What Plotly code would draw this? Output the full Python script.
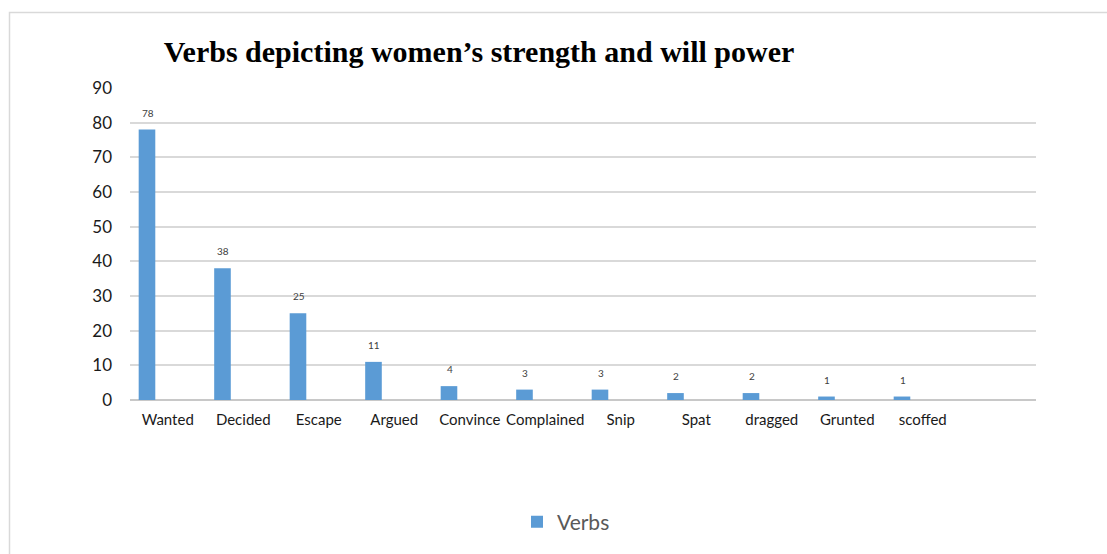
import plotly.graph_objects as go

# Verb frequency counts
verbs = ["Wanted", "Decided", "Escape", "Argued", "Convince", "Complained",
         "Snip", "Spat", "dragged", "Grunted", "scoffed"]
counts = [78, 38, 25, 11, 4, 3, 3, 2, 2, 1, 1]
y_ticks = [0, 10, 20, 30, 40, 50, 60, 70, 80, 90]

W, H = 1107, 554
L, R, T, B = 130, 71, 88, 154
pw, ph = W - L - R, H - T - B


def px_to_paper_x(px):
    return (px - L) / pw


def px_to_paper_y(py):
    return (H - B - py) / ph


fig = go.Figure()
fig.add_trace(go.Bar(
    x=verbs, y=counts, name="Verbs",
    marker=dict(color="#5b9bd5", line=dict(width=0)),
    offset=-0.385, width=0.22,
    hoverinfo="x+y",
))

# value labels above each bar
for v, c in zip(verbs, counts):
    fig.add_annotation(x=v, y=c, text=str(c), showarrow=False,
                       yshift=17, xshift=-20,
                       font=dict(family="Lato", size=10, color="#404040"))

# outer chart border
fig.add_shape(type="rect", xref="paper", yref="paper",
              x0=px_to_paper_x(9.5), x1=px_to_paper_x(1120),
              y0=px_to_paper_y(570), y1=px_to_paper_y(12.5),
              line=dict(color="#d9d9d9", width=1.5), fillcolor="rgba(0,0,0,0)",
              layer="below")

fig.update_layout(
    width=W, height=H,
    margin=dict(l=L, r=R, t=T, b=B),
    paper_bgcolor="white", plot_bgcolor="white",
    title=dict(text="<b>Verbs depicting women’s strength and will power</b>",
               x=479 / W, xanchor="center",
               y=1 - 51 / H, yanchor="middle",
               font=dict(family="Liberation Serif", size=30, color="#000000")),
    xaxis=dict(type="category", categoryorder="array", categoryarray=verbs,
               range=[-0.5, 11.5], showgrid=False, showline=False,
               ticks="", tickfont=dict(family="Lato", size=15, color="#1a1a1a"),
               ticklabelstandoff=9, fixedrange=True),
    yaxis=dict(range=[0, 90], tickvals=y_ticks, showgrid=True,
               gridcolor="#d9d9d9", gridwidth=1.5, zeroline=True,
               zerolinecolor="#c8c8c8", zerolinewidth=2, showline=False,
               tickfont=dict(family="Lato", size=17, color="#1a1a1a"),
               ticks="", ticklabelstandoff=17, fixedrange=True),
    showlegend=True,
    legend=dict(orientation="h", x=px_to_paper_x(517), xanchor="left",
                y=px_to_paper_y(522), yanchor="middle",
                font=dict(family="Lato", size=21, color="#595959"),
                itemwidth=30),
)

fig.write_html("out.html")
